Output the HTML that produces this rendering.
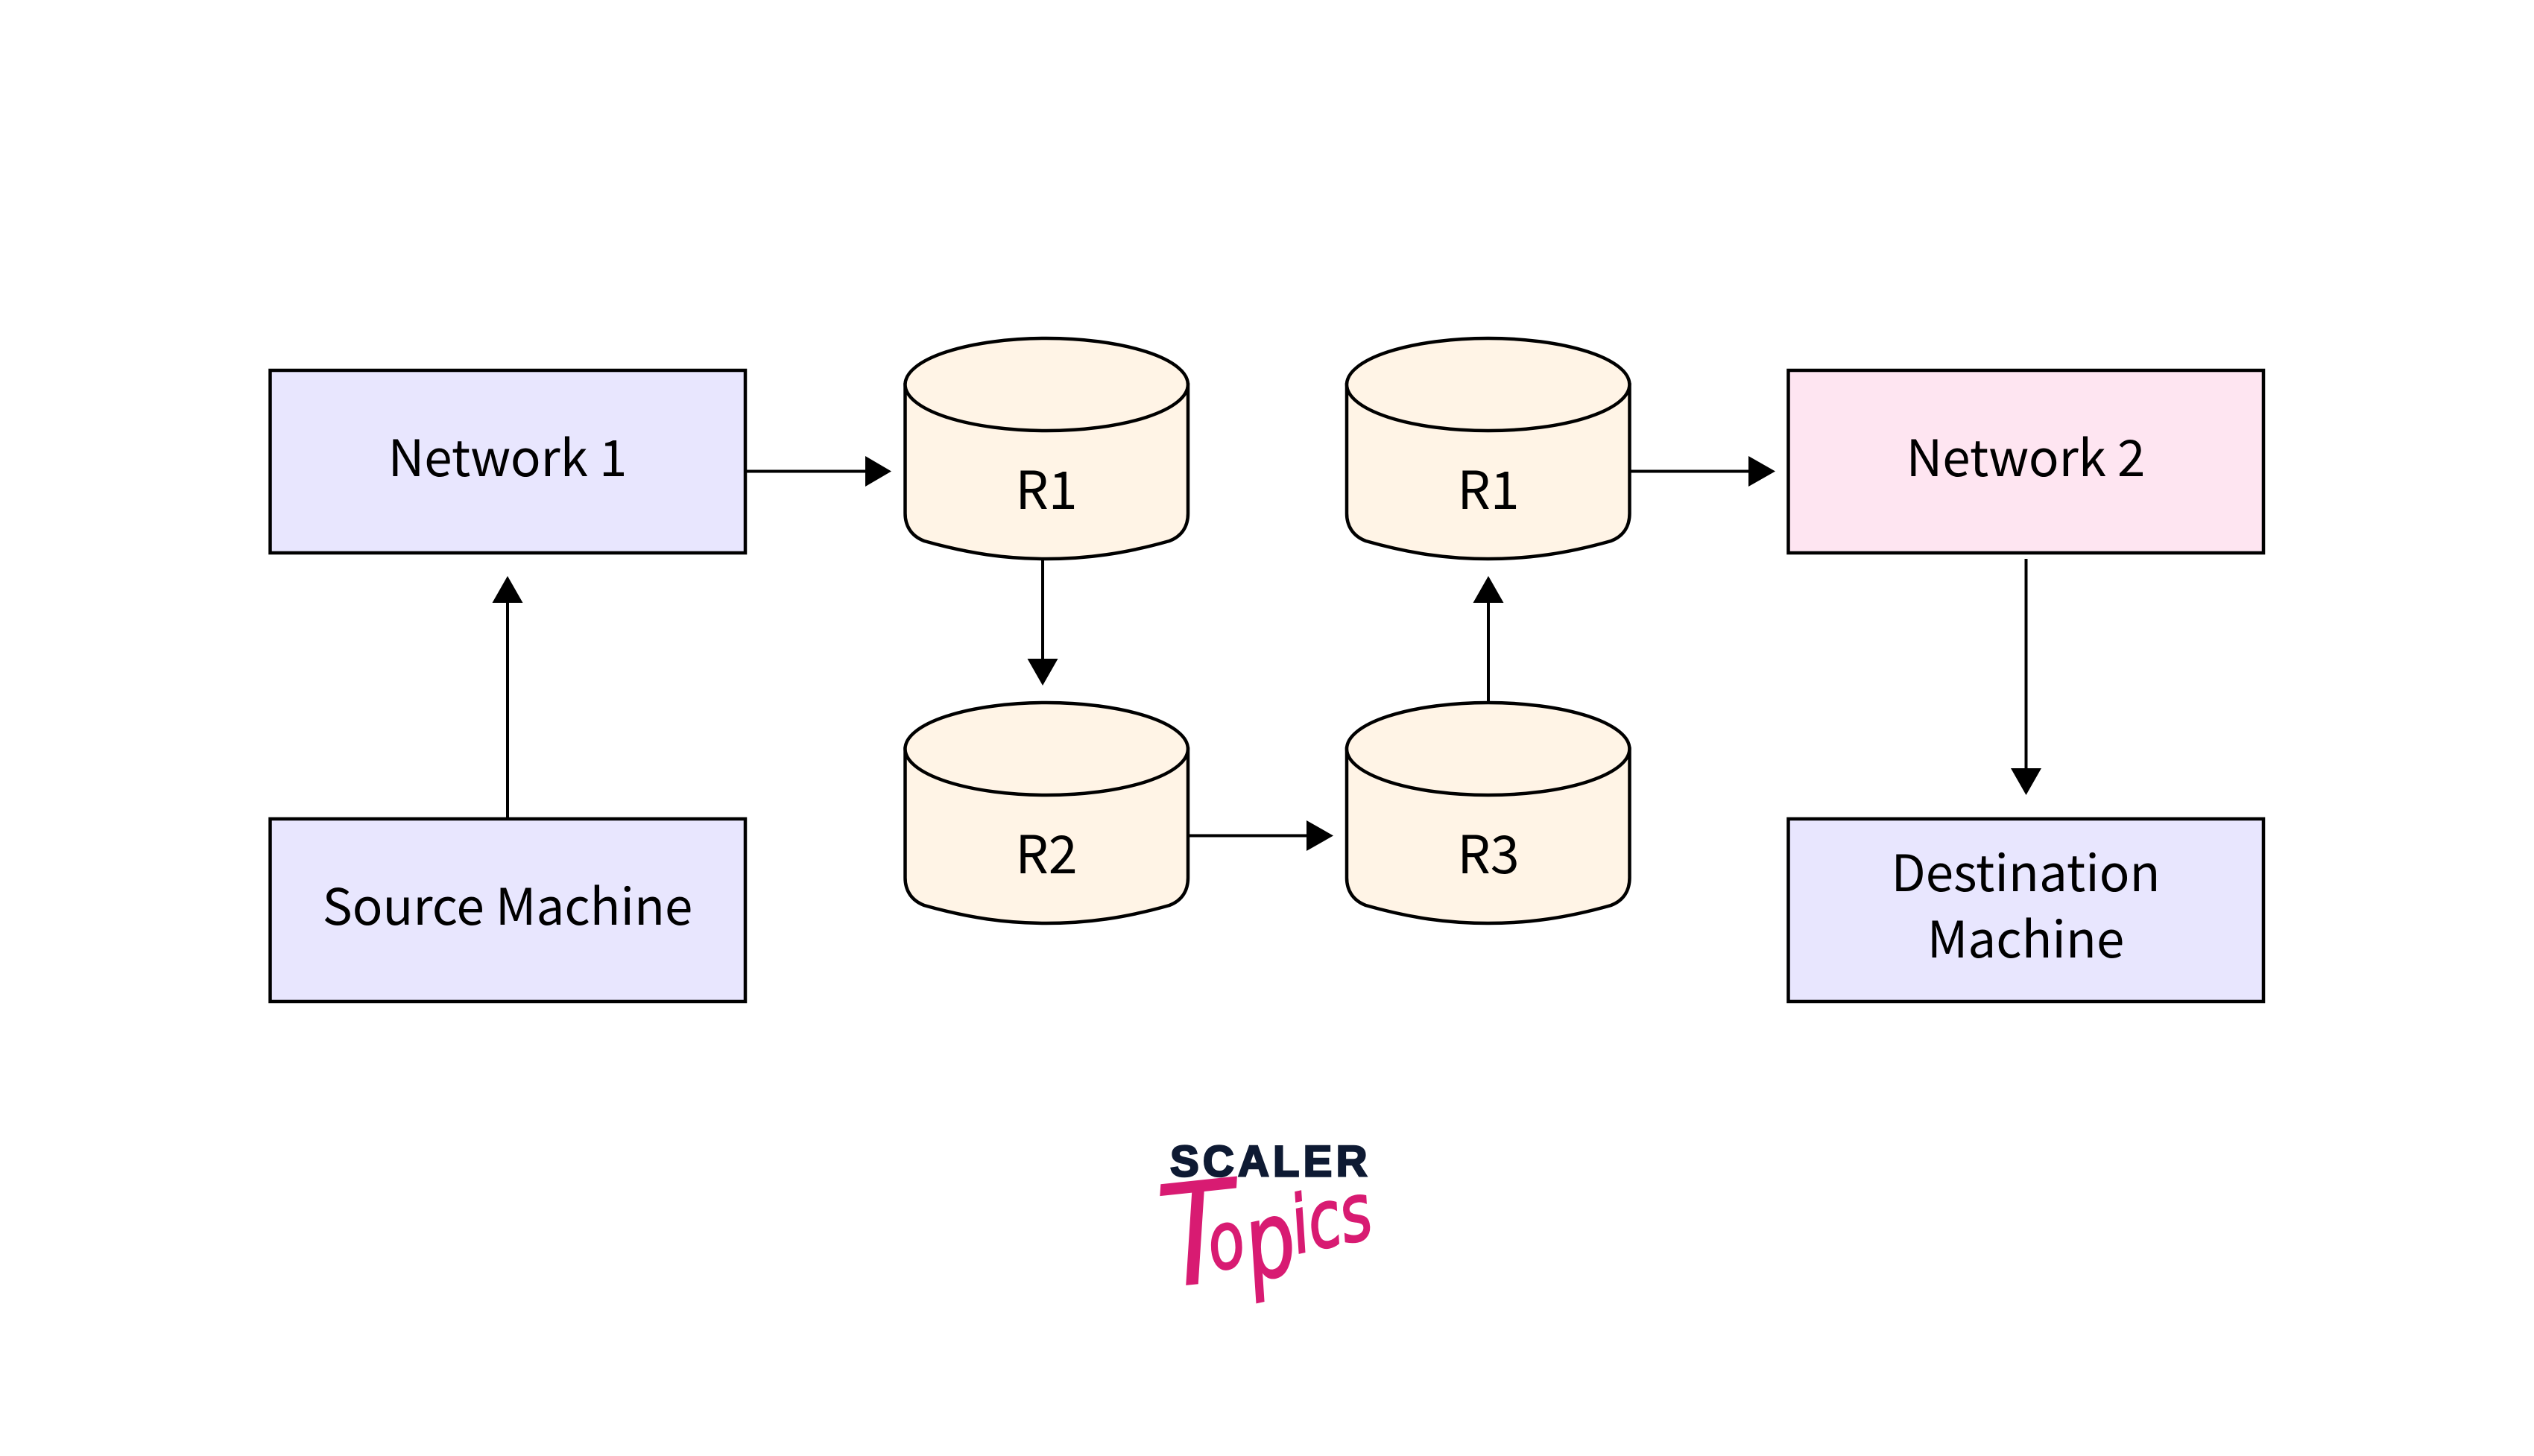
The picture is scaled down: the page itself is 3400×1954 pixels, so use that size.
<!DOCTYPE html>
<html lang="en">
<head>
<meta charset="utf-8">
<title>Routing diagram</title>
<style>
html,body{margin:0;padding:0;background:#fff;width:3400px;height:1954px;overflow:hidden}
svg{display:block}
.t{font-family:"Noto Sans CJK SC","Liberation Sans",sans-serif;font-size:67.3px;fill:#000;text-anchor:middle}
.r{font-size:70px}
</style>
</head>
<body>
<svg xmlns="http://www.w3.org/2000/svg" width="3400" height="1954" viewBox="0 0 3400 1954">
<defs>
<g id="cyl">
<path d="M1214.5,516 V689 C1214.5,705 1222,719 1240,726 C1300,743 1350,750 1404,750 C1458,750 1509,743 1569,726 C1587,719 1594,705 1594,689 V516 Z" fill="#fff4e6" stroke="#000" stroke-width="4.5"/>
<ellipse cx="1404.2" cy="516" rx="189.7" ry="62" fill="#fff4e6" stroke="#000" stroke-width="4.5"/>
</g>
</defs>
<rect width="3400" height="1954" fill="#fff"/>

<rect x="362.5" y="497" width="637.5" height="245" fill="#e8e6fe" stroke="#000" stroke-width="4.5"/>
<rect x="362.5" y="1099" width="637.5" height="245" fill="#e8e6fe" stroke="#000" stroke-width="4.5"/>
<rect x="2399.5" y="497" width="637.5" height="245" fill="#fee5f1" stroke="#000" stroke-width="4.5"/>
<rect x="2399.5" y="1099" width="637.5" height="245" fill="#e8e6fe" stroke="#000" stroke-width="4.5"/>

<use href="#cyl"/>
<use href="#cyl" transform="translate(592.5,0)"/>
<use href="#cyl" transform="translate(0,489)"/>
<use href="#cyl" transform="translate(592.5,489)"/>

<g stroke="#000" stroke-width="4" fill="none">
<path d="M1001,632.5H1165"/>
<path d="M2187,632.5H2350"/>
<path d="M1594,1121.5H1757"/>
<path d="M681,1099V805"/>
<path d="M1399,750V888"/>
<path d="M1997,943V805"/>
<path d="M2718.5,750V1035"/>
</g>
<g fill="#000">
<polygon points="1161,612 1196,632.5 1161,653"/>
<polygon points="2346,612 2382,632.5 2346,653"/>
<polygon points="1753,1101 1789,1121.5 1753,1142"/>
<polygon points="660.5,809 681,773 701.5,809"/>
<polygon points="1378.5,884 1419.5,884 1399,920"/>
<polygon points="1976.5,809 1997,773 2017.5,809"/>
<polygon points="2698,1031 2739,1031 2718.5,1067"/>
</g>

<text class="t" x="681" y="639">Network 1</text>
<text class="t" x="681" y="1241">Source Machine</text>
<text class="t r" x="1404" y="683">R1</text>
<text class="t r" x="1997" y="683">R1</text>
<text class="t r" x="1404" y="1172">R2</text>
<text class="t r" x="1997" y="1172">R3</text>
<text class="t" x="2718" y="639">Network 2</text>
<text class="t" x="2718" y="1196">Destination</text>
<text class="t" x="2718" y="1285">Machine</text>

<text x="1570" y="1578.5" style="font-family:'Liberation Sans',sans-serif;font-weight:700;font-size:58px;letter-spacing:5.2px;fill:#0e1a33;stroke:#0e1a33;stroke-width:2.5">SCALER</text>
<g fill="#d81b72" stroke="#d81b72" style="font-family:'DejaVu Sans',sans-serif;font-style:oblique">
<text transform="translate(1562,1728) rotate(-6) scale(.88,1)" style="font-size:190px" stroke-width="0">T</text>
<text transform="translate(1628,1706) rotate(-12) scale(.75,1)" style="font-size:106px" stroke-width="2.5">o<tspan dy="24" style="font-size:140px">p</tspan><tspan dy="-24">ics</tspan></text>
</g>
</svg>
</body>
</html>
